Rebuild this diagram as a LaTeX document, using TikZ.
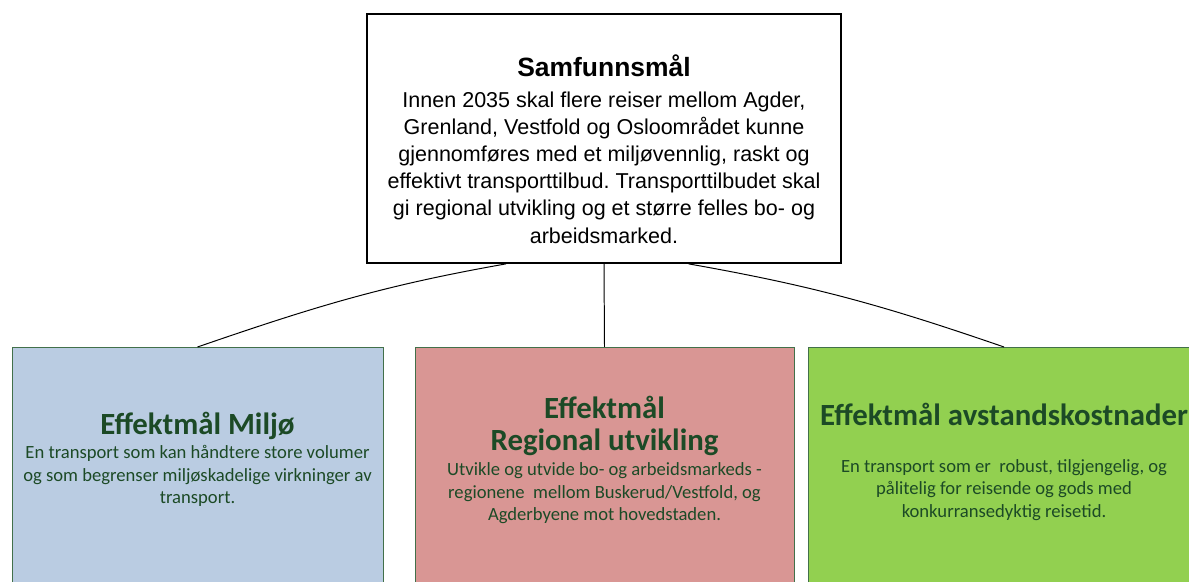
\documentclass[tikz,border=0pt]{standalone}
\usepackage{fontspec}
\setmainfont{Liberation Sans}
\newfontfamily\calfont{Carlito}
\newcommand{\goaltitlefont}{\calfont\bfseries\fontsize{21.9}{26}\selectfont}
\frenchspacing

\definecolor{miljofill}{HTML}{BACCE2}
\definecolor{regionfill}{HTML}{D99694}
\definecolor{avstandfill}{HTML}{92D050}
\definecolor{goaltext}{HTML}{1C4A26}
\definecolor{goaledge}{HTML}{42704A}

\begin{document}
\begin{tikzpicture}[x=0.025cm, y=-0.025cm,
  goalbox/.style={draw=goaledge, line width=0.6pt, anchor=north,
    minimum height=6.5cm, inner sep=0pt},
  goaltext/.style={anchor=north, align=center, inner sep=0pt,
    text=goaltext, font=\calfont\fontsize{13.25}{16}\selectfont},
  link/.style={line width=0.7pt}]
  \useasboundingbox (0,0) rectangle (1189,582);
  \clip (0,0) rectangle (1189,582);

  % top goal
  \node[draw, line width=1.2pt, minimum width=11.85cm, minimum height=6.225cm,
    inner sep=0pt] (samf) at (604,138.5) {};
  \node[anchor=north, align=center, inner sep=0pt,
    font=\fontsize{15.3}{19.3}\selectfont] (samfTxt) at (604,54)
    {{\bfseries\fontsize{18.8}{21}\selectfont Samfunnsmål}\\[3pt]
     Innen 2035 skal flere reiser mellom Agder,\\
     Grenland, Vestfold og Osloområdet kunne\\
     gjennomføres med et miljøvennlig, raskt og\\
     effektivt transporttilbud. Transporttilbudet skal\\
     gi regional utvikling og et større felles bo- og\\
     arbeidsmarked.};

  % effect goals
  \node[goalbox, fill=miljofill, minimum width=9.275cm] (miljo) at (197.5,347) {};
  \node[goalbox, fill=regionfill, minimum width=9.475cm] (region) at (604.5,347) {};
  \node[goalbox, fill=avstandfill, minimum width=9.8cm] (avstand) at (1004,347) {};

  \node[goaltext] (miljoTxt) at (197.5,411.5)
    {{\goaltitlefont Effektmål Miljø}\\[1.5pt]
     En transport som kan håndtere store volumer\\
     og som begrenser miljøskadelige virkninger av\\
     transport.};
  \node[goaltext] (regionTxt) at (604.5,396)
    {{\goaltitlefont Effektmål}\\[7pt]
     {\goaltitlefont Regional utvikling}\\[1.5pt]
     Utvikle og utvide bo- og arbeidsmarkeds -\\
     regionene\ \ mellom Buskerud/Vestfold, og\\
     Agderbyene mot hovedstaden.};
  \node[goaltext] (avstandTxt) at (1004,403)
    {{\goaltitlefont Effektmål avstandskostnader}\\[17pt]
     En transport som er\ \ robust, tilgjengelig, og\\
     pålitelig for reisende og gods med\\
     konkurransedyktig reisetid.};

  % connectors
  \draw[link] (samf.232) to[out=190, in=19] (miljo.north);
  \draw[link] (samf.south) -- (region.north);
  \draw[link] (samf.-56) to[out=-10, in=161] (avstand.north);
\end{tikzpicture}
\end{document}
